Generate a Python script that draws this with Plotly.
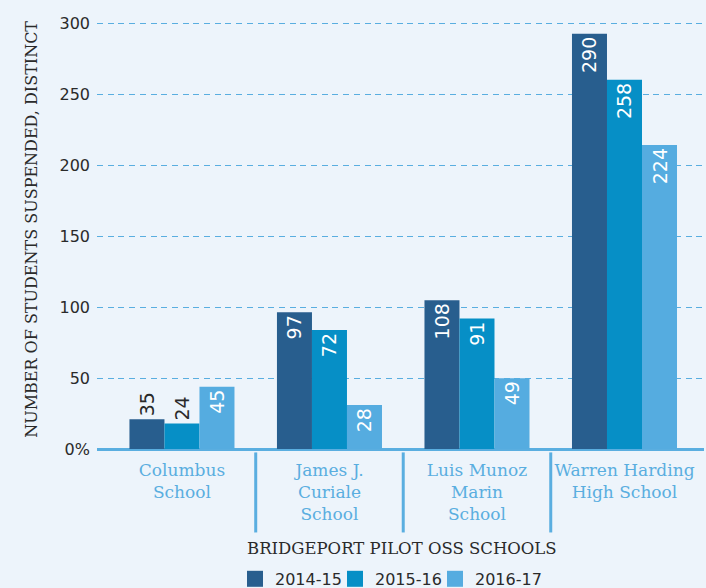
import plotly.graph_objects as go

schools = ["Columbus<br>School", "James J.<br>Curiale<br>School", "Luis Munoz<br>Marin<br>School", "Warren Harding<br>High School"]
years = ["2014-15", "2015-16", "2016-17"]
# bar heights as drawn in the picture
h_2014 = [21, 96.5, 105, 293]
h_2015 = [18, 84, 92, 260.5]
h_2016 = [44, 31, 50, 214.5]
# value labels as printed on the picture
lab_2014 = ["35", "97", "108", "290"]
lab_2015 = ["24", "72", "91", "258"]
lab_2016 = ["45", "28", "49", "224"]
pos_2014 = ["outside", "inside", "inside", "inside"]
pos_2015 = ["outside", "inside", "inside", "inside"]
pos_2016 = ["inside", "inside", "inside", "inside"]
colors = ["#285e8e", "#068fc6", "#55ace0"]
y_tickvals = [0, 50, 100, 150, 200, 250, 300]
y_ticktext = ["0%", "50", "100", "150", "200", "250", "300"]

NUM_FONT = "DejaVu Sans"
TXT_FONT = "DejaVu Serif"
BG = "#edf4fb"
GRID = "#5aaee0"
PL, PW = 97, 607  # plot left / width in px

fig = go.Figure()
for name, h, lab, pos, c in zip(years, [h_2014, h_2015, h_2016], [lab_2014, lab_2015, lab_2016],
                               [pos_2014, pos_2015, pos_2016], colors):
    fig.add_trace(go.Bar(
        x=list(range(len(schools))), y=h, name=name, marker=dict(color=c, line=dict(width=0)),
        text=lab, textposition=pos, textangle=-90, insidetextanchor="end",
        insidetextfont=dict(family=NUM_FONT, size=19, color="white"),
        outsidetextfont=dict(family=NUM_FONT, size=19, color="#2a2a2a"),
        cliponaxis=False, constraintext="none", showlegend=False,
    ))

# legend entries with larger square swatches, one legend each for even spacing
legend_ids = ["legend", "legend2", "legend3"]
legend_layout = {}
for k, (name, c, lid) in enumerate(zip(years, colors, legend_ids)):
    fig.add_trace(go.Scatter(x=[None], y=[None], mode="markers", name=name, legend=lid,
                             marker=dict(symbol="square", size=16, color=c)))
    legend_layout[lid] = dict(orientation="h", x=(235 + 100 * k - PL) / PW, xanchor="left",
                              y=-0.3035, yanchor="middle", itemwidth=30,
                              font=dict(family=NUM_FONT, size=16, color="#2a2a2a"),
                              bgcolor="rgba(0,0,0,0)")

shapes = []
for i in range(len(schools) - 1):
    shapes.append(dict(type="line", xref="x", yref="paper", x0=i + 0.5, x1=i + 0.5,
                       y0=-0.008, y1=-0.195, line=dict(color=GRID, width=3)))

fig.update_layout(
    width=706, height=588, paper_bgcolor=BG, plot_bgcolor=BG,
    margin=dict(l=PL, r=2, t=21, b=139, autoexpand=False),
    barmode="group", bargap=0.288, bargroupgap=0,
    showlegend=True,
    xaxis=dict(range=[-0.576, 3.539], tickvals=list(range(len(schools))), ticktext=schools,
               tickfont=dict(family=TXT_FONT, size=17, color="#5aaee0"), showgrid=False,
               zeroline=False, showline=False, ticks="", ticklabelstandoff=9, automargin=False),
    yaxis=dict(range=[0, 302], tickvals=y_tickvals, ticktext=y_ticktext,
               tickfont=dict(family=NUM_FONT, size=16, color="#2a2a2a"),
               showgrid=True, gridcolor=GRID, griddash="6px,4.7px", gridwidth=1,
               zeroline=True, zerolinecolor=GRID, zerolinewidth=3, showline=False,
               ticks="", ticklabelstandoff=6, automargin=False),
    shapes=shapes,
    annotations=[
        dict(text="NUMBER OF STUDENTS SUSPENDED, DISTINCT", xref="paper", yref="paper",
             x=-0.127, y=0.513, textangle=-90, showarrow=False,
             font=dict(family=TXT_FONT, size=16, color="#2a2a2a")),
        dict(text="BRIDGEPORT PILOT OSS SCHOOLS", xref="paper", yref="paper",
             x=0.502, y=-0.233, showarrow=False, yanchor="middle",
             font=dict(family=TXT_FONT, size=16.5, color="#2a2a2a")),
    ],
    **legend_layout,
)

fig.write_html("out.html", config={"displayModeBar": False},
               post_script="document.body.style.margin='0';document.body.style.overflow='hidden';")
